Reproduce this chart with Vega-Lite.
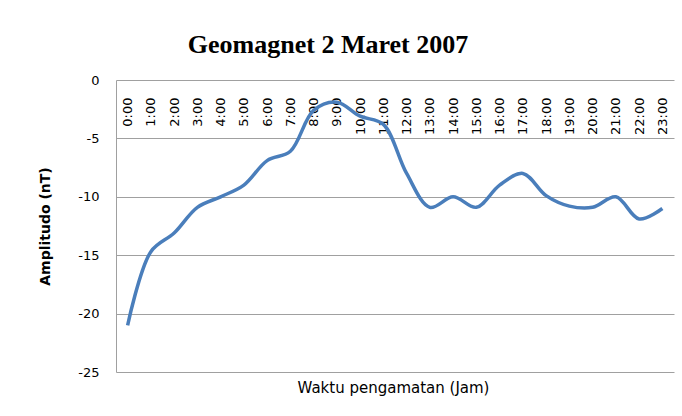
{
  "$schema": "https://vega.github.io/schema/vega-lite/v6.json",
  "autosize": {"type": "none"},
  "width": 558,
  "height": 292,
  "padding": {"left": 116, "top": 80, "right": 8, "bottom": 44},
  "background": "white",
  "title": {
    "text": "Geomagnet 2 Maret 2007",
    "font": "Liberation Serif",
    "fontSize": 26,
    "fontWeight": "bold",
    "color": "#000000",
    "anchor": "middle",
    "dx": -67,
    "offset": 16
  },
  "data": {
    "values": [
      {"jam": "0:00", "amplitudo": -21},
      {"jam": "1:00", "amplitudo": -14.7},
      {"jam": "2:00", "amplitudo": -13.1},
      {"jam": "3:00", "amplitudo": -10.9},
      {"jam": "4:00", "amplitudo": -10},
      {"jam": "5:00", "amplitudo": -9},
      {"jam": "6:00", "amplitudo": -6.9},
      {"jam": "7:00", "amplitudo": -6.1},
      {"jam": "8:00", "amplitudo": -2.6},
      {"jam": "9:00", "amplitudo": -1.9},
      {"jam": "10:00", "amplitudo": -3.1},
      {"jam": "11:00", "amplitudo": -3.8},
      {"jam": "12:00", "amplitudo": -8},
      {"jam": "13:00", "amplitudo": -10.9},
      {"jam": "14:00", "amplitudo": -10},
      {"jam": "15:00", "amplitudo": -10.9},
      {"jam": "16:00", "amplitudo": -9},
      {"jam": "17:00", "amplitudo": -8},
      {"jam": "18:00", "amplitudo": -9.9},
      {"jam": "19:00", "amplitudo": -10.8},
      {"jam": "20:00", "amplitudo": -10.9},
      {"jam": "21:00", "amplitudo": -10},
      {"jam": "22:00", "amplitudo": -11.9},
      {"jam": "23:00", "amplitudo": -11}
    ]
  },
  "mark": {
    "type": "line",
    "interpolate": "catmull-rom",
    "color": "#4a7ebb",
    "strokeWidth": 3.5
  },
  "encoding": {
    "x": {
      "field": "jam",
      "type": "ordinal",
      "sort": null,
      "scale": {"type": "point", "padding": 0.5},
      "axis": {
        "orient": "bottom",
        "title": "Waktu pengamatan (Jam)",
        "titleFont": "DejaVu Sans",
        "titleFontSize": 15,
        "titleFontWeight": "normal",
        "titleColor": "#000000",
        "titleY": 8,
        "titleX": 277,
        "labelAngle": -90,
        "labelAlign": "right",
        "labelBaseline": "middle",
        "labelPadding": -275,
        "labelFont": "DejaVu Sans",
        "labelFontSize": 13,
        "labelColor": "#000000",
        "ticks": false,
        "tickSize": 0,
        "domain": false,
        "grid": false,
        "labelOverlap": false
      }
    },
    "y": {
      "field": "amplitudo",
      "type": "quantitative",
      "scale": {"domain": [-25, 0], "nice": false, "zero": false},
      "axis": {
        "title": "Amplitudo (nT)",
        "titleFont": "DejaVu Sans",
        "titleFontSize": 14,
        "titleFontWeight": "bold",
        "titleColor": "#000000",
        "titlePadding": 25,
        "values": [-25, -20, -15, -10, -5, 0],
        "labelExpr": "toString(datum.value)",
        "labelFont": "DejaVu Sans",
        "labelFontSize": 13,
        "labelColor": "#000000",
        "labelPadding": 17,
        "ticks": false,
        "tickSize": 0,
        "domain": true,
        "domainColor": "#a0a0a0",
        "grid": true,
        "gridColor": "#a0a0a0",
        "gridOpacity": 1,
        "gridWidth": 1
      }
    }
  },
  "config": {
    "view": {"stroke": null}
  }
}
